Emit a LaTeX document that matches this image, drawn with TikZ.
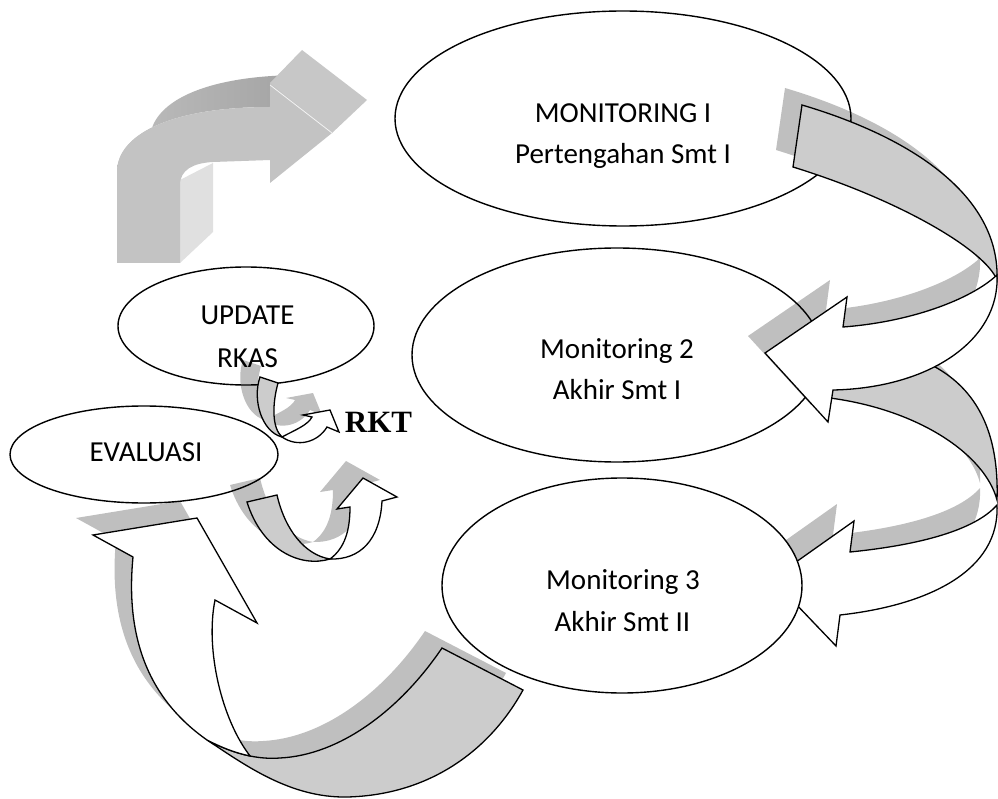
\documentclass[tikz,border=0pt]{standalone}
\usepackage{fontspec}
\setmainfont{Carlito}
\newfontfamily\serifrkt{Liberation Serif}
\usetikzlibrary{shapes.geometric}
\definecolor{bandgray}{HTML}{CCCCCC}
\definecolor{aFront}{HTML}{C3C3C3}
\definecolor{aTop}{HTML}{C7C7C7}
\definecolor{aSideL}{HTML}{BEBEBE}
\definecolor{aSideR}{HTML}{A2A2A2}
\definecolor{aRight}{HTML}{E0E0E0}
% arrow outlines (pixel coordinates)
\def\Bback{(802,105) .. controls (920,140) and (1000,200) .. (997,280) .. controls (985,250) and (900,200) .. (793,167) -- cycle}
\def\Bfront{(997,275) .. controls (1000,340) and (930,388) .. (833,390) -- (828,422) -- (765,353) -- (847,297) -- (843,327) .. controls (910,322) and (970,300) .. (997,275) -- cycle}
\def\Cback{(830,345) .. controls (960,345) and (1000,410) .. (997,500) .. controls (985,455) and (920,410) .. (830,398) -- cycle}
\def\Cfront{(997,505) .. controls (1000,570) and (930,605) .. (840,615) -- (836,646) -- (772,579) -- (854,521) -- (850,552) .. controls (920,545) and (975,530) .. (997,505) -- cycle}
\def\Dback{(442,648) -- (523,690) .. controls (490,750) and (430,795) .. (347,797) .. controls (290,798) and (245,765) .. (207,740) .. controls (220.8,747.2) and (235.3,753) .. (250.1,756) .. controls (260,758) and (270,758.8) .. (280,758) .. controls (340,755) and (400,710) .. (442,648) -- cycle}
\def\Dfront{(207,740) .. controls (150,700) and (125,640) .. (133,557) -- (93,535) -- (197,518) -- (257,623) -- (215,600) .. controls (205,650) and (222,720) .. (250.1,756) .. controls (235.3,753) and (220.8,747.2) .. (207,740) -- cycle}
\def\Eback{(247,502) -- (277,495) .. controls (285,530) and (305,555) .. (330,559) .. controls (300,568) and (262,550) .. (247,502) -- cycle}
\def\Efront{(330,559) .. controls (360,560) and (380,540) .. (382,501) -- (397,497) -- (363,478) -- (337,509) -- (350,507) .. controls (350,530) and (345,548) .. (330,559) -- cycle}
\def\Fback{(260,377) -- (278,383) .. controls (272,405) and (272,428) .. (282,437) .. controls (262,432) and (252,400) .. (260,377) -- cycle}
\def\Ffront{(282,437) .. controls (295,430) and (308,425) .. (312,417) -- (303,415) -- (330,410) -- (339,432) -- (327,427) .. controls (318,442) and (298,448) .. (282,437) -- cycle}
\begin{document}
\begin{tikzpicture}[x=1pt,y=-1pt,
  ell/.style={draw, line width=1.4pt, fill=white, ellipse, inner sep=0pt, outer sep=0pt},
  lbl/.style={anchor=base, inner sep=0pt, font=\fontsize{29}{35}\selectfont},
  backpart/.style={draw, line width=1.3pt, fill=bandgray},
  frontpart/.style={draw, line width=1.3pt, fill=white},
  shadowpart/.style={fill=black, fill opacity=0.25, shift={(-17,-17)}}]
\useasboundingbox (0,0) rectangle (998,799);
\fill[white] (0,0) rectangle (998,799);

% top-left 3D bent arrow
\shade[left color=aSideL, right color=aSideR] (117,172) .. controls (117,135) and (170,107) .. (270,107) -- (303,75) .. controls (203,75) and (150,103) .. (150,140) -- cycle;
\fill[aTop] (270,107) -- (270,83) -- (302,50) -- (367,100) -- (332,133) -- cycle;
\fill[aRight] (180,180) -- (180,263) -- (213,232) -- (213,163) -- cycle;
\fill[aFront] (117,263) -- (117,172) .. controls (117,135) and (170,107) .. (270,107) -- (270,83) -- (332,133) -- (270,183) -- (270,160) -- (213,162) .. controls (193,163) and (180,170) .. (180,185) -- (180,263) -- cycle;
\draw[white!80!aFront, line width=0.8pt] (270,85) -- (332,133);

% ellipses
\node[ell, minimum width=456pt, minimum height=215pt] (m1) at (623,118.5) {};
\node[lbl] (m1a) at (623,122.5) {MONITORING I};
\node[lbl] (m1b) at (623,163.5) {Pertengahan Smt I};
\node[ell, minimum width=410pt, minimum height=214pt] (m2) at (617,355) {};
\node[lbl] (m2a) at (617,358.5) {Monitoring 2};
\node[lbl] (m2b) at (617,399.5) {Akhir Smt I};
\node[ell, minimum width=256pt, minimum height=118pt] (upd) at (246,326) {};
\node[lbl] (upda) at (247.5,324.5) {UPDATE};
\node[lbl] (updb) at (247.5,367) {RKAS};
\node[ell, minimum width=268pt, minimum height=97pt] (eva) at (144,454.5) {};
\node[lbl] (evaa) at (146,461) {EVALUASI};

% arrow Monitoring 2 -> Monitoring 3
\fill[shadowpart] \Cback \Cfront;
\path[backpart] \Cback;
\path[frontpart] \Cfront;
% arrow Monitoring 3 -> Evaluasi
\fill[shadowpart] \Dback \Dfront;
\path[backpart] \Dback;
\path[frontpart] \Dfront;

\node[ell, minimum width=360pt, minimum height=215pt] (m3) at (622,585.5) {};
\node[lbl] (m3a) at (623,589.5) {Monitoring 3};
\node[lbl] (m3b) at (622.5,631) {Akhir Smt II};

% arrow Monitoring I -> Monitoring 2
\fill[shadowpart] \Bback \Bfront;
\path[backpart] \Bback;
\path[frontpart] \Bfront;

% small arrows
\fill[shadowpart] \Eback \Efront;
\path[backpart] \Eback;
\path[frontpart] \Efront;
\fill[shadowpart] \Fback \Ffront;
\path[backpart] \Fback;
\path[frontpart] \Ffront;

\node[anchor=base, inner sep=0pt, font=\serifrkt\bfseries\fontsize{31}{35}\selectfont] (rkt) at (378.5,432) {RKT};
\end{tikzpicture}
\end{document}
